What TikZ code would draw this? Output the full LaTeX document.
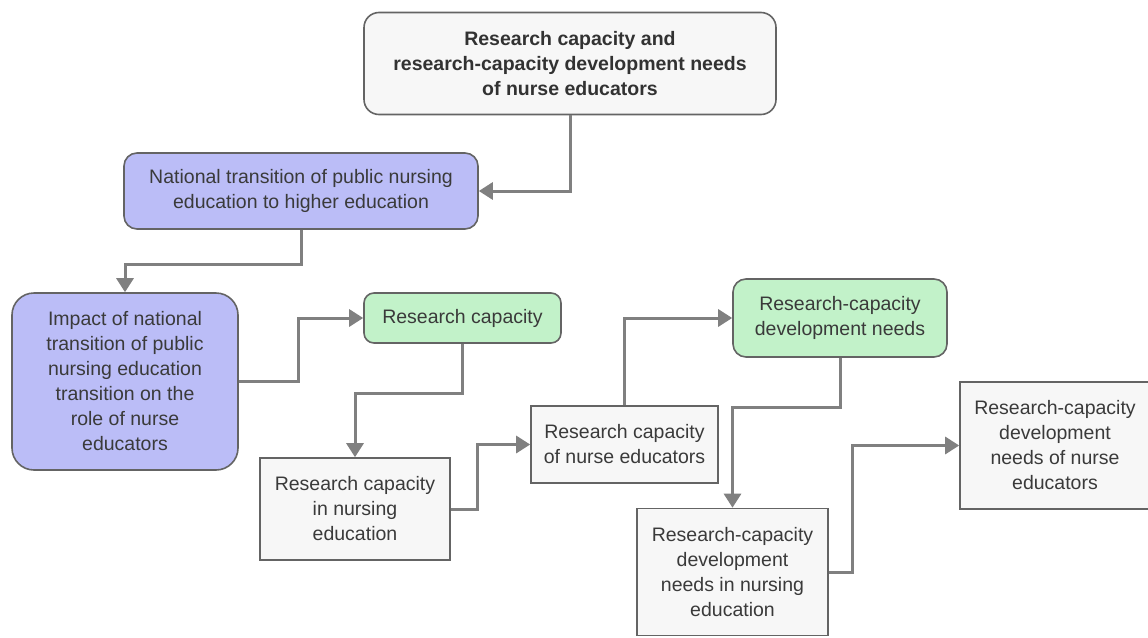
\documentclass[tikz,border=0pt]{standalone}
\usepackage{fontspec}
\setmainfont{Liberation Sans}
\usetikzlibrary{arrows.meta}
\definecolor{lav}{RGB}{187,189,247}
\definecolor{mint}{RGB}{194,242,201}
\definecolor{pale}{RGB}{247,247,247}
\definecolor{edge}{RGB}{100,100,100}
\definecolor{conncol}{RGB}{128,128,128}
\definecolor{txt}{RGB}{58,58,58}
\tikzset{
  box/.style={draw=edge, line width=1.6pt, align=center, inner sep=0pt,
    text=txt, font=\fontsize{19.5}{25}\selectfont},
  topbox/.style={box, fill=pale, rounded corners=15pt, font=\fontsize{19.5}{25}\selectfont\bfseries, text={rgb,255:red,50;green,50;blue,50}},
  lavbox/.style={box, fill=lav, rounded corners=13pt},
  greenbox/.style={box, fill=mint, rounded corners=10pt},
  plainbox/.style={box, fill=pale},
  conn/.style={draw=conncol, line width=3pt, -{Triangle[length=14pt,width=17pt]}}
}
\begin{document}
\begin{tikzpicture}[x=1pt,y=-1pt]
\useasboundingbox (0,0) rectangle (1148,637);
\node[topbox, minimum width=412pt, minimum height=102pt] (top) at (570,63.5)
  {Research capacity and\\research-capacity development needs\\of nurse educators};
\node[lavbox, minimum width=354pt, minimum height=76pt] (nat) at (301,191)
  {National transition of public nursing\\education to higher education};
\node[lavbox, rounded corners=22pt, minimum width=226pt, minimum height=177pt] (imp) at (125,381.5)
  {Impact of national\\transition of public\\nursing education\\transition on the\\role of nurse\\educators};
\node[greenbox, minimum width=197pt, minimum height=50pt] (rc) at (462.5,318)
  {Research capacity};
\node[greenbox, rounded corners=13pt, minimum width=214pt, minimum height=78pt] (rcdn) at (840,318)
  {Research-capacity\\development needs};
\node[plainbox, minimum width=190pt, minimum height=102pt] (rcne) at (355,509)
  {Research capacity\\in nursing\\education};
\node[plainbox, minimum width=187pt, minimum height=77pt] (rcnu) at (624.5,444.5)
  {Research capacity\\of nurse educators};
\node[plainbox, minimum width=191pt, minimum height=127pt] (rcdnne) at (732.5,572)
  {Research-capacity\\development\\needs in nursing\\education};
\node[plainbox, minimum width=190pt, minimum height=127pt] (rcdnnu) at (1055,445.5)
  {Research-capacity\\development\\needs of nurse\\educators};
\draw[conn] (top.south) |- (nat.east);
\draw[conn] (nat.south) -- ++(0,35) -| (imp.north);
\draw[conn] (imp.east) -- ++(60,0) |- (rc.west);
\draw[conn] (rc.south) -- ++(0,50) -| (rcne.north);
\draw[conn] (rcne.east) -- ++(27,0) |- (rcnu.west);
\draw[conn] (rcnu.north) |- (rcdn.west);
\draw[conn] (rcdn.south) -- ++(0,50) -| (rcdnne.north);
\draw[conn] (rcdnne.east) -- ++(24,0) |- (rcdnnu.west);
\end{tikzpicture}
\end{document}
